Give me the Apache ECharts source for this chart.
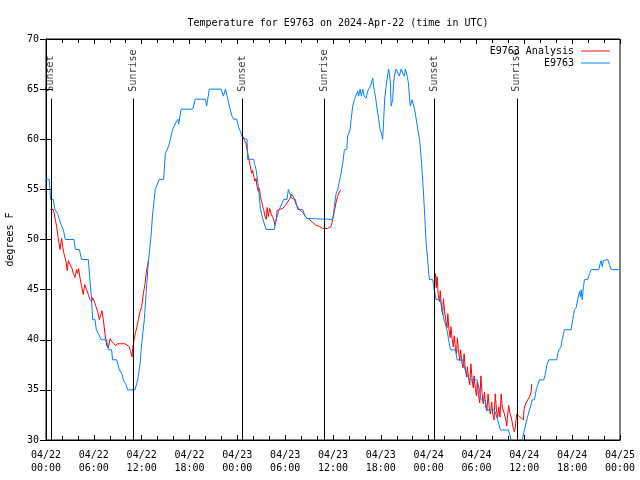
<!DOCTYPE html>
<html>
<head>
<meta charset="utf-8">
<script src="https://cdn.jsdelivr.net/npm/echarts@6/dist/echarts.min.js"></script>
<style>html,body{margin:0;padding:0;background:#fff}#c{width:640px;height:480px}</style>
</head>
<body>
<div id="c"></div>
<script>
// Hours since 04/22 00:00 UTC, temperature in degrees F
const stationTemps = [[0,56],[0.4,56],[0.58,54],[0.9,54],[1.13,53],[1.3,53],[1.5,52.5],[1.67,52],[1.9,51.5],[2.17,51],[2.42,50],[3.51,50],[3.68,49],[4.18,49],[4.47,48],[5.31,48],[5.5,46],[5.72,44],[5.85,42],[6.15,42],[6.31,41],[6.56,41],[6.94,40],[7.6,40],[7.82,39],[8.23,39],[8.35,38],[8.86,38],[9.2,37],[9.57,36.5],[9.7,36],[10.04,35.5],[10.24,35],[11.17,35],[11.5,36],[11.8,37.6],[12.0,39.6],[12.33,42],[12.55,44.6],[12.87,48],[13.17,50.3],[13.38,52.6],[13.71,55],[14.2,56],[14.76,56],[14.97,58.6],[15.38,59.3],[15.89,61],[16.39,61.8],[16.55,62],[16.64,61.5],[16.94,63],[18.4,63],[18.73,64],[19.99,64],[20.15,63.3],[20.49,65],[21.96,65],[22.25,64.3],[22.5,65],[22.66,64.5],[23.0,63.3],[23.34,62.3],[23.54,62],[23.92,62],[24.17,61.2],[24.47,60.6],[24.67,60.1],[25.22,60],[25.3,58],[26.05,58],[26.14,57.6],[26.35,57],[26.64,55.3],[26.89,53.1],[27.18,52.1],[27.6,51],[28.64,51],[28.86,52],[29.27,53],[29.81,54],[30.23,54],[30.4,55],[30.65,55],[30.82,54.1],[31.28,54],[31.57,53],[32.2,53],[32.5,52.3],[32.82,52.1],[33.04,52],[35.88,52],[36.05,52.45],[36.17,53.3],[36.39,54.6],[36.6,55],[36.8,55.8],[37.01,56.6],[37.22,57.6],[37.43,58.95],[37.72,59],[37.84,60.3],[38.14,60.95],[38.27,61.95],[38.47,63.3],[38.68,63.95],[38.9,64],[39.1,64.8],[39.22,64.3],[39.4,65],[39.56,64.3],[39.73,65],[39.9,64.3],[40.15,64.1],[40.35,64.8],[40.56,65.1],[40.78,65.5],[40.98,66.1],[41.15,64.95],[41.32,64.3],[41.48,63.3],[41.73,62],[41.91,60.95],[42.11,60.5],[42.23,60],[42.36,62],[42.48,64],[42.66,65.3],[42.86,66.45],[42.99,67],[43.07,66.6],[43.2,65.6],[43.29,63.3],[43.49,63.95],[43.58,65.3],[43.7,66.3],[43.91,67],[44.12,67],[44.33,66.3],[44.54,67],[44.74,66.6],[44.96,66.3],[45.08,67],[45.25,66.5],[45.46,65.6],[45.58,64.3],[45.71,63.3],[45.92,63.95],[46.09,63.8],[46.25,62.95],[46.42,62.1],[46.63,61],[46.84,60.1],[47.05,58.3],[47.25,55.95],[47.47,52.95],[47.68,49.6],[47.88,47.95],[48.01,46.6],[48.1,46],[48.51,46],[48.63,45.3],[48.93,44],[49.47,44],[49.64,43.3],[49.89,42.1],[50.0,41.8],[50.19,41.3],[50.35,40.8],[50.48,40.1],[50.73,39],[51.32,39],[51.44,38.6],[51.57,38],[52.27,38],[52.4,37.5],[52.57,37],[52.82,36.5],[53.11,36],[54.08,36],[54.37,35],[54.58,34],[55.08,34],[55.33,33],[56.25,33],[56.46,32.5],[56.66,32],[57.0,31],[58.0,31],[58.26,30.3],[58.42,29],[59.67,29],[59.8,30.2],[60.01,31],[60.23,31.8],[60.4,32.3],[60.64,33],[60.8,33.4],[60.98,34],[61.27,34],[61.48,35],[61.65,35.4],[61.9,36],[62.44,36],[62.65,36.6],[62.82,37.45],[63.07,38],[64.07,38],[64.19,38.6],[64.32,39],[64.61,39.3],[64.74,40],[64.9,40.5],[65.03,41],[65.87,41],[66.07,42],[66.17,42.5],[66.29,43],[66.5,43.2],[66.7,44],[66.91,44.8],[67.04,44.3],[67.13,45],[67.25,44],[67.42,45.3],[67.54,46],[67.95,46],[68.17,46.6],[68.38,47],[69.34,47],[69.51,47.6],[69.64,47.9],[69.76,47.3],[69.92,47.9],[70.09,48],[70.46,48],[70.68,47.5],[70.89,47],[71.93,47]];

const analysisNight1 = [[0.58,53],[0.92,53],[1.33,51.3],[1.54,50.1],[1.75,49],[1.96,50.1],[2.09,49.3],[2.25,48.6],[2.51,47.8],[2.67,46.9],[2.8,47.9],[3.01,47.5],[3.22,47.2],[3.43,46.6],[3.63,46.2],[3.84,47.0],[3.95,46.6],[4.09,47.1],[4.26,46.2],[4.47,45.3],[4.68,44.5],[4.85,45.5],[5.1,45.0],[5.31,44.5],[5.52,44],[5.73,43.8],[5.85,44.2],[6.06,43.8],[6.27,43.3],[6.48,42.8],[6.69,42],[6.85,42.4],[7.02,42.9],[7.19,42],[7.4,40.6],[7.61,39.4],[7.82,39.2],[8.03,40.1],[8.28,39.8],[8.53,39.6],[8.75,39.4],[8.95,39.6],[9.91,39.6],[10.45,39.3],[10.62,38.8],[10.79,38.3],[10.87,39.1],[11.04,40],[11.2,40.6],[11.4,41.3],[11.58,42],[11.79,42.8],[12.0,43.3],[12.21,44.6],[12.42,45.6],[12.63,47],[12.84,47.85]];

const analysisNight2 = [[24.67,60.3],[25.09,59.6],[25.22,58.95],[25.38,58.3],[25.63,57.3],[25.8,56.6],[25.92,56.9],[26.05,56.3],[26.22,55.8],[26.35,56.1],[26.47,55.3],[26.64,54.8],[26.76,55.1],[26.89,54.3],[27.05,53.8],[27.18,53.3],[27.3,53.0],[27.47,52.3],[27.64,52.0],[27.73,53.2],[27.89,52.3],[28.06,53.1],[28.23,52.6],[28.39,52.3],[28.56,52.0],[28.73,51.4],[28.9,52.1],[28.98,52.9],[29.27,53.0],[29.69,53.1],[30.11,53.5],[30.53,54.0],[30.82,54.5],[31.07,54.2],[31.37,53.5],[31.78,53.0],[32.2,52.7],[32.62,52.2],[33.04,52.0],[33.45,51.7],[33.88,51.4],[34.29,51.3],[34.71,51.1],[35.33,51.1],[35.76,51.3],[35.96,52.0],[36.17,52.8],[36.38,53.7],[36.59,54.3],[36.8,54.8],[37.01,54.9]];

const analysisNight3 = [[48.72,45.3],[48.85,46.6],[48.95,45.2],[49.05,46.3],[49.2,44.5],[49.35,43.8],[49.45,44.9],[49.6,43.2],[49.75,42.5],[49.85,44.1],[50.0,42.8],[50.15,41.9],[50.3,41.2],[50.4,42.6],[50.55,41.0],[50.7,40.2],[50.8,41.3],[50.95,40.0],[51.1,39.3],[51.2,40.4],[51.35,39.2],[51.5,38.6],[51.6,40.2],[51.75,38.8],[51.9,37.9],[52.0,39.0],[52.15,37.8],[52.3,37.2],[52.45,38.6],[52.6,37.0],[52.75,36.3],[52.85,37.3],[53.0,36.2],[53.15,35.5],[53.3,37.6],[53.45,36.0],[53.6,35.2],[53.7,36.4],[53.85,35.1],[54.0,34.4],[54.1,35.8],[54.25,34.5],[54.4,33.7],[54.55,36.4],[54.7,34.6],[54.85,33.6],[55.0,34.8],[55.15,33.3],[55.3,32.9],[55.45,34.6],[55.6,33.2],[55.75,32.6],[55.9,33.8],[56.05,32.6],[56.2,32.0],[56.35,34.6],[56.5,33.0],[56.65,32.2],[56.8,33.3],[56.95,32.3],[57.09,34.6],[57.25,33.2],[57.5,32.6],[57.72,31.8],[57.8,31.4],[57.92,32.6],[58.04,33.45],[58.2,32.6],[58.34,32.3],[58.47,31.8],[58.63,31.1],[58.76,30.8],[58.88,31.3],[58.97,32.1],[59.05,32.6],[59.3,32.4],[59.6,32.2],[59.89,32.0],[59.95,33.0],[60.14,33.6],[60.43,34.0],[60.64,34.3],[60.85,34.8],[60.93,35.6]];

const sunsetHours = [0.6, 24.67, 48.76];
const sunriseHours = [11.0, 34.96, 59.05];
const xTickLabels = ['04/22\n00:00','04/22\n06:00','04/22\n12:00','04/22\n18:00','04/23\n00:00','04/23\n06:00','04/23\n12:00','04/23\n18:00','04/24\n00:00','04/24\n06:00','04/24\n12:00','04/24\n18:00','04/25\n00:00'];

const FONT = 'DejaVu Sans Mono';
const sunEvents = sunsetHours.map(h => [h, 'Sunset']).concat(sunriseHours.map(h => [h, 'Sunrise']));

const chart = echarts.init(document.getElementById('c'), null, {renderer: 'canvas'});
const redColor = '#ff0000', blueColor = '#0080ff';
const lineSeries = (name, data, color) => ({
  name, type: 'line', data, symbol: 'none', showSymbol: false, animation: false,
  lineStyle: {color, width: 1}, itemStyle: {color}, clip: true, xAxisIndex: 0, yAxisIndex: 0
});
const option = {
  animation: false,
  textStyle: {fontFamily: FONT},
  title: {
    text: 'Temperature for E9763 on 2024-Apr-22 (time in UTC)',
    left: 333, textAlign: 'center', top: 13,
    textStyle: {fontFamily: FONT, fontSize: 10, fontWeight: 'normal', color: '#000'}
  },
  legend: {
    data: ['E9763 Analysis', 'E9763'],
    orient: 'vertical', align: 'right', right: 25, top: 40,
    itemWidth: 29, itemHeight: 12, itemGap: 0,
    textStyle: {fontFamily: FONT, fontSize: 10, color: '#000', lineHeight: 12, padding: [0, 2, 0, 0]},
    icon: 'path://M0,5 L30,5 L30,6 L0,6 Z'
  },
  grid: {left: 46, right: 20, top: 39, bottom: 40, show: true, borderColor: '#000', borderWidth: 1,
    containLabel: false, outerBoundsMode: 'none'},
  xAxis: [{
    type: 'value', min: 0, max: 72, interval: 6, position: 'bottom',
    axisLine: {show: true, lineStyle: {color: '#000'}},
    axisTick: {show: true, inside: true, length: 5, lineStyle: {color: '#000'}},
    minorTick: {show: true, splitNumber: 3, length: 4, lineStyle: {color: '#000'}},
    splitLine: {show: false},
    axisLabel: {margin: 9, fontFamily: FONT, fontSize: 10, color: '#000', lineHeight: 13,
      formatter: v => xTickLabels[Math.round(v / 6)] || ''}
  }, {
    type: 'value', min: 0, max: 72, interval: 6, position: 'top',
    axisLine: {show: true, lineStyle: {color: '#000'}},
    axisTick: {show: true, inside: true, length: 5, lineStyle: {color: '#000'}},
    minorTick: {show: true, splitNumber: 3, length: 4, lineStyle: {color: '#000'}},
    splitLine: {show: false}, axisLabel: {show: false}
  }],
  yAxis: [{
    type: 'value', min: 30, max: 70, interval: 5, position: 'left',
    name: 'degrees F', nameLocation: 'middle', nameRotate: 90, nameGap: 31,
    nameTextStyle: {fontFamily: FONT, fontSize: 10, color: '#000'},
    axisLine: {show: true, lineStyle: {color: '#000'}},
    axisTick: {show: true, inside: true, length: 6, lineStyle: {color: '#000'}},
    splitLine: {show: false},
    axisLabel: {margin: 7, fontFamily: FONT, fontSize: 10, color: '#000'}
  }, {
    type: 'value', min: 30, max: 70, interval: 5, position: 'right',
    axisLine: {show: true, lineStyle: {color: '#000'}},
    axisTick: {show: true, inside: true, length: 6, lineStyle: {color: '#000'}},
    splitLine: {show: false}, axisLabel: {show: false}
  }],
  series: [
    {
      name: 'sun', type: 'scatter', symbolSize: 0, animation: false, silent: true,
      data: sunEvents.map(e => [e[0], 64.75, e[1]]),
      label: {
        show: true, position: 'inside', rotate: 90, align: 'left', verticalAlign: 'middle',
        fontFamily: FONT, fontSize: 10, color: '#000',
        formatter: p => p.data[2]
      },
      markLine: {
        silent: true, symbol: 'none', animation: false,
        lineStyle: {color: '#000', width: 1, type: 'solid'},
        label: {show: false},
        data: sunEvents.map(e => [{coord: [e[0], 30]}, {coord: [e[0], 64.05]}])
      }
    },
    lineSeries('E9763 Analysis', analysisNight1, redColor),
    lineSeries('E9763 Analysis', analysisNight2, redColor),
    lineSeries('E9763 Analysis', analysisNight3, redColor),
    lineSeries('E9763', stationTemps, blueColor)
  ]
};
chart.setOption(option);
</script>
</body>
</html>
